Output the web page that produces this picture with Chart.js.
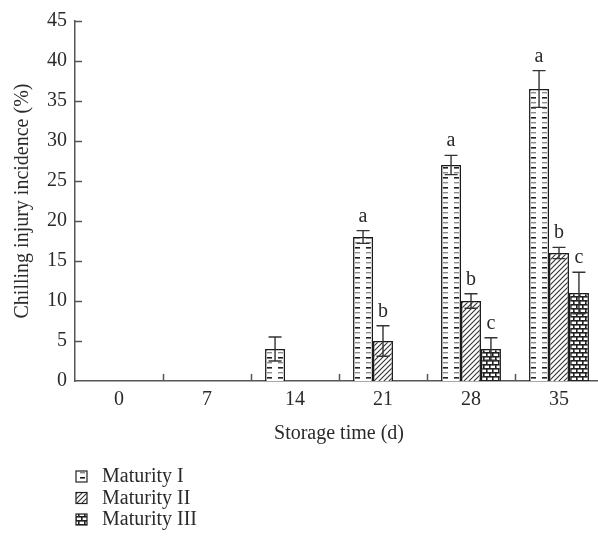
<!DOCTYPE html>
<html><head><meta charset="utf-8">
<script src="https://cdn.jsdelivr.net/npm/chart.js@4/dist/chart.umd.min.js"></script>
<style>html,body{margin:0;padding:0;background:#fff;overflow:hidden}
#wrap{width:598px;height:541px;overflow:hidden;position:relative;background:#fff}
canvas{display:block}</style></head><body>
<div id="wrap"><canvas id="c" width="620" height="541"></canvas></div>
<script>
// ---- data ----
const categories = ['0', '7', '14', '21', '28', '35'];
const seriesNames = ['Maturity I', 'Maturity II', 'Maturity III'];
const maturityI   = [null, null, 4, 18, 27, 36.5];
const maturityII  = [null, null, null, 5, 10, 16];
const maturityIII = [null, null, null, null, 4, 11];
const errI   = [null, null, 1.5, 0.8, 1.2, 2.3];
const errII  = [null, null, null, 1.9, 0.9, 0.7];
const errIII = [null, null, null, null, 1.4, 2.6];
const lettersI   = ['', '', '', 'a', 'a', 'a'];
const lettersII  = ['', '', '', 'b', 'b', 'b'];
const lettersIII = ['', '', '', '', 'c', 'c'];
const yTicks = [0, 5, 10, 15, 20, 25, 30, 35, 40, 45];
const xTitle = 'Storage time (d)';
const yTitle = 'Chilling injury incidence (%)';

const FONT = "'Liberation Serif', 'Times New Roman', serif";
const INK = '#2a2a2a';
const AXIS = '#555';

function makePattern(kind) {
  const c = document.createElement('canvas');
  const g = c.getContext('2d');
  if (kind === 0) {
    c.width = 11; c.height = 10;
    g.fillStyle = '#fff'; g.fillRect(0, 0, 11, 10);
    g.fillStyle = '#8a8a8a'; g.fillRect(3, 2, 5, 1.4);
    g.fillStyle = '#222'; g.fillRect(3, 7, 5, 1.6);
  } else if (kind === 1) {
    c.width = 5; c.height = 5;
    g.fillStyle = '#fff'; g.fillRect(0, 0, 5, 5);
    g.strokeStyle = '#333'; g.lineWidth = 1.1;
    g.beginPath();
    g.moveTo(-1, 6); g.lineTo(6, -1);
    g.moveTo(-1, 1); g.lineTo(1, -1);
    g.moveTo(4, 6); g.lineTo(6, 4);
    g.stroke();
  } else {
    c.width = 12; c.height = 8;
    g.fillStyle = '#fff'; g.fillRect(0, 0, 12, 8);
    g.fillStyle = '#222';
    g.fillRect(0, 0, 12, 1.6); g.fillRect(0, 4, 12, 1.6);
    g.fillRect(0, 0, 1.6, 4); g.fillRect(6, 0, 1.6, 4);
    g.fillRect(3, 4, 1.6, 4); g.fillRect(9, 4, 1.6, 4);
  }
  return g.createPattern(c, 'repeat');
}

const seriesValues = [maturityI, maturityII, maturityIII];
const seriesErr = [errI, errII, errIII];
const seriesLetters = [lettersI, lettersII, lettersIII];

const datasets = seriesNames.map((name, k) => ({
  label: name,
  data: seriesValues[k],
  backgroundColor: makePattern(k),
  borderColor: '#1a1a1a',
  borderWidth: 1.5,
  categoryPercentage: 0.68,
  barPercentage: 1.0
}));

const extras = {
  id: 'extras',
  afterDatasetsDraw(chart) {
    const ctx = chart.ctx;
    const y = chart.scales.y, x = chart.scales.x;
    const area = chart.chartArea;
    ctx.save();
    // inward ticks
    ctx.strokeStyle = AXIS; ctx.lineWidth = 1.5;
    yTicks.forEach(v => {
      if (v === 0) return;
      const py = Math.round(y.getPixelForValue(v)) + 0.5;
      ctx.beginPath(); ctx.moveTo(area.left, py); ctx.lineTo(area.left + 7, py); ctx.stroke();
    });
    const step = x.getPixelForValue(1) - x.getPixelForValue(0);
    for (let i = 0; i < categories.length; i++) {
      const bx = Math.round(x.getPixelForValue(i) + step / 2);
      ctx.beginPath(); ctx.moveTo(bx + 0.5, area.bottom); ctx.lineTo(bx + 0.5, area.bottom - 7); ctx.stroke();
    }
    // error bars and letters
    ctx.strokeStyle = '#333'; ctx.lineWidth = 1.4;
    ctx.fillStyle = INK;
    ctx.font = '20px ' + FONT;
    ctx.textAlign = 'center'; ctx.textBaseline = 'alphabetic';
    chart.data.datasets.forEach((ds, k) => {
      const meta = chart.getDatasetMeta(k);
      ds.data.forEach((v, i) => {
        if (v === null) return;
        const bar = meta.data[i];
        const e = seriesErr[k][i];
        const cx = bar.x;
        const top = y.getPixelForValue(v + e);
        const bot = y.getPixelForValue(v - e);
        ctx.beginPath();
        ctx.moveTo(cx, top); ctx.lineTo(cx, bot);
        ctx.moveTo(cx - 6.5, top); ctx.lineTo(cx + 6.5, top);
        ctx.moveTo(cx - 6.5, bot); ctx.lineTo(cx + 6.5, bot);
        ctx.stroke();
        const L = seriesLetters[k][i];
        if (L) ctx.fillText(L, cx, top - 9);
      });
    });
    // legend
    ctx.textAlign = 'left'; ctx.textBaseline = 'middle';
    ctx.font = '20px ' + FONT;
    chart.data.datasets.forEach((ds, k) => {
      const cy = 477 + k * 21.5;
      ctx.fillStyle = ds.backgroundColor;
      ctx.fillRect(76, cy - 6, 11, 11);
      ctx.strokeStyle = '#222'; ctx.lineWidth = 1.2;
      ctx.strokeRect(76, cy - 6, 11, 11);
      ctx.fillStyle = INK;
      ctx.fillText(ds.label, 102, cy);
    });
    ctx.restore();
  }
};

new Chart(document.getElementById('c'), {
  type: 'bar',
  data: { labels: categories, datasets },
  options: {
    responsive: false,
    animation: false,
    devicePixelRatio: 1,
    layout: { padding: { left: 11, top: 21, right: 17, bottom: 95 } },
    plugins: { legend: { display: false }, tooltip: { enabled: false } },
    scales: {
      x: {
        grid: { display: false, drawTicks: false },
        border: { display: true, color: AXIS, width: 1.5 },
        ticks: { color: INK, padding: 7, font: { family: FONT, size: 20 } },
        title: { display: true, text: xTitle, color: INK, font: { family: FONT, size: 20 }, padding: { top: 3, bottom: 0 } }
      },
      y: {
        min: 0, max: 45,
        grid: { display: false, drawTicks: false },
        border: { display: true, color: AXIS, width: 1.5 },
        ticks: { stepSize: 5, color: INK, padding: 8, font: { family: FONT, size: 20 } },
        title: { display: true, text: yTitle, color: INK, font: { family: FONT, size: 20 }, padding: { top: 0, bottom: 0 } },
        afterFit(scale) { scale.width = 64; }
      }
    }
  },
  plugins: [extras]
});
</script>
</body></html>
